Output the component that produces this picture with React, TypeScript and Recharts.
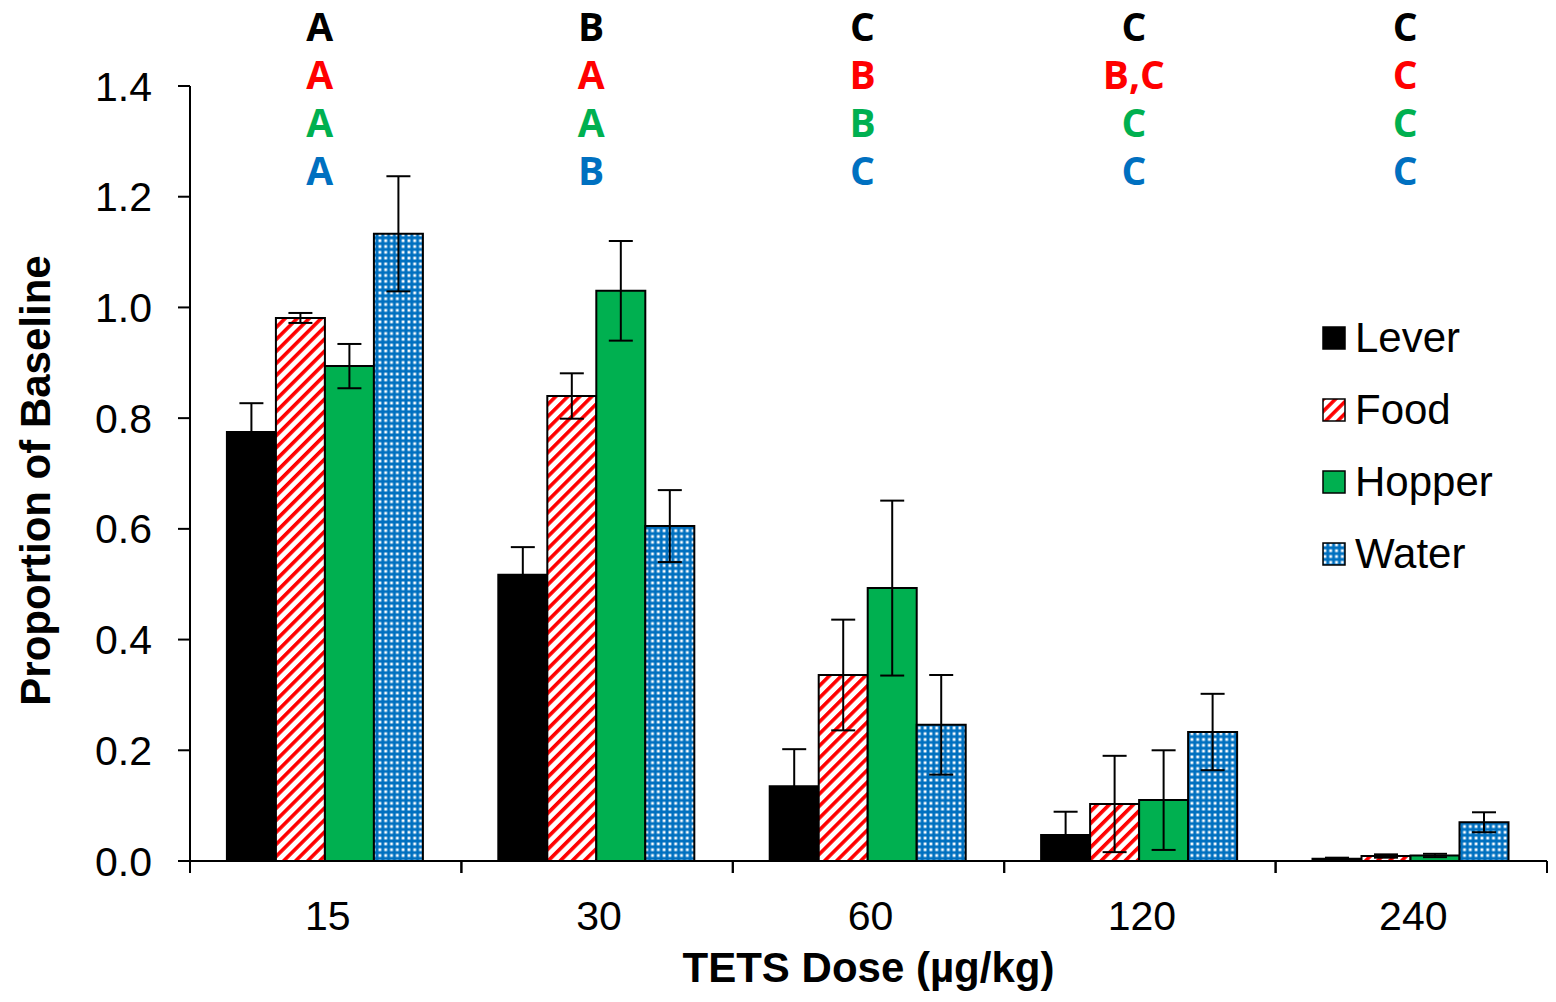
import { BarChart, Bar, XAxis, YAxis, ErrorBar, Legend } from "recharts";

const doses = ["15", "30", "60", "120", "240"];

const lever = [0.775, 0.517, 0.135, 0.047, 0.004];
const leverErr = [0.052, 0.05, 0.067, 0.042, 0.002];
const food = [0.981, 0.84, 0.336, 0.103, 0.009];
const foodErr = [0.009, 0.041, 0.1, 0.087, 0.003];
const hopper = [0.894, 1.03, 0.493, 0.11, 0.01];
const hopperErr = [0.04, 0.09, 0.158, 0.09, 0.003];
const water = [1.133, 0.605, 0.246, 0.233, 0.07];
const waterErr = [0.104, 0.065, 0.09, 0.069, 0.018];

// significance letters above each dose group, one row per measure
const leverLetters = ["A", "B", "C", "C", "C"];
const foodLetters = ["A", "A", "B", "B,C", "C"];
const hopperLetters = ["A", "A", "B", "C", "C"];
const waterLetters = ["A", "B", "C", "C", "C"];

const yTicks = [0, 0.2, 0.4, 0.6, 0.8, 1.0, 1.2, 1.4];

const data = doses.map((dose, i) => ({
  dose,
  lever: lever[i],
  leverErr: leverErr[i],
  food: food[i],
  foodErr: foodErr[i],
  hopper: hopper[i],
  hopperErr: hopperErr[i],
  water: water[i],
  waterErr: waterErr[i],
}));

const series = [
  { key: "lever", name: "Lever", fill: "#000000" },
  { key: "food", name: "Food", fill: "url(#foodStripes)" },
  { key: "hopper", name: "Hopper", fill: "#00B050" },
  { key: "water", name: "Water", fill: "url(#waterDots)" },
];

const letterRows = [
  { letters: leverLetters, color: "#000000" },
  { letters: foodLetters, color: "#FF0000" },
  { letters: hopperLetters, color: "#00B050" },
  { letters: waterLetters, color: "#0070C0" },
];

const W = 1556;
const H = 1002;
const PLOT_LEFT = 190;
const PLOT_RIGHT = 9;
const PLOT_TOP = 86;
const PLOT_BOTTOM = 861;
const band = (W - PLOT_LEFT - PLOT_RIGHT) / doses.length;

const arial = "'Liberation Sans', Arial, sans-serif";
const letterFont = "'Open Sans', 'Noto Sans', sans-serif";

function DoseTick(props: any) {
  const { x, payload, index } = props;
  const i = payload?.index ?? index;
  return (
    <g>
      <line x1={x - band / 2} x2={x - band / 2} y1={PLOT_BOTTOM} y2={PLOT_BOTTOM + 12} stroke="#000" strokeWidth={2} />
      <line x1={x + band / 2} x2={x + band / 2} y1={PLOT_BOTTOM} y2={PLOT_BOTTOM + 12} stroke="#000" strokeWidth={2} />
      <text x={x + 2} y={PLOT_BOTTOM + 40} dy="0.71em" textAnchor="middle" fontSize={41} fontFamily={arial} fill="#000">
        {payload.value}
      </text>
      {letterRows.map((row, r) => (
        <text
          key={r}
          x={x - 6}
          y={25 + r * 48}
          dominantBaseline="central"
          textAnchor="middle"
          fontSize={39}
          fontWeight={700}
          fontFamily={letterFont}
          fill={row.color}
        >
          {row.letters[i]}
        </text>
      ))}
    </g>
  );
}

function LegendBox() {
  return (
    <div style={{ fontFamily: arial, fontSize: 42, color: "#000" }}>
      {series.map((s) => (
        <div key={s.key} style={{ display: "flex", alignItems: "center", height: 72 }}>
          <svg width={24} height={24} style={{ marginRight: 9 }}>
            <rect x={1} y={1} width={22} height={22} fill={s.fill} stroke="#000" strokeWidth={1.5} />
          </svg>
          <span>{s.name}</span>
        </div>
      ))}
    </div>
  );
}

function YTitle(props: any) {
  const { viewBox } = props;
  const cx = viewBox.x + 35;
  const cy = viewBox.y + viewBox.height / 2 + 7;
  return (
    <text
      x={cx}
      y={cy}
      transform={`rotate(-90, ${cx}, ${cy})`}
      textAnchor="middle"
      dominantBaseline="central"
      fontSize={42}
      fontWeight={700}
      fontFamily={arial}
      fill="#000"
    >
      Proportion of Baseline
    </text>
  );
}

export default function App() {
  return (
    <div style={{ position: "relative", width: W, height: H, background: "#fff" }}>
      <style>{`body{margin:0}`}</style>
      <svg width={0} height={0} style={{ position: "absolute" }}>
        <defs>
          <pattern id="foodStripes" patternUnits="userSpaceOnUse" width={8.5} height={8.5} patternTransform="rotate(45)">
            <rect width={8.5} height={8.5} fill="#fff" />
            <rect width={3.6} height={8.5} fill="#FF0000" />
          </pattern>
          <pattern id="waterDots" patternUnits="userSpaceOnUse" width={5.8} height={5.8}>
            <rect width={5.8} height={5.8} fill="#0070C0" />
            <rect x={1.5} y={1.5} width={2.8} height={2.8} fill="#fff" />
          </pattern>
        </defs>
      </svg>
      <BarChart
        width={W}
        height={H}
        data={data}
        margin={{ top: PLOT_TOP, right: PLOT_RIGHT, bottom: 0, left: 0 }}
        barCategoryGap="13.6%"
        barGap={0}
      >
        <XAxis
          dataKey="dose"
          height={H - PLOT_BOTTOM}
          interval={0}
          axisLine={{ stroke: "#000", strokeWidth: 2 }}
          tickLine={false}
          tick={<DoseTick />}
          label={{
            value: "TETS Dose (µg/kg)",
            position: "insideBottom",
            offset: 20,
            fill: "#000",
            fontSize: 42,
            fontWeight: 700,
            fontFamily: arial,
          }}
        />
        <YAxis
          width={PLOT_LEFT}
          domain={[0, 1.4]}
          ticks={yTicks}
          interval={0}
          tickFormatter={(v: number) => v.toFixed(1)}
          axisLine={{ stroke: "#000", strokeWidth: 2 }}
          tickLine={{ stroke: "#000", strokeWidth: 2 }}
          tickSize={12}
          tickMargin={26}
          tick={{ fill: "#000", fontSize: 41, fontFamily: arial }}
          label={<YTitle />}
        />
        <Legend
          layout="vertical"
          align="center"
          verticalAlign="middle"
          content={<LegendBox />}
          wrapperStyle={{ left: 1322, top: 302, width: 220 }}
        />
        {series.map((s) => (
          <Bar
            key={s.key}
            dataKey={s.key}
            name={s.name}
            fill={s.fill}
            stroke="#000"
            strokeWidth={2}
            isAnimationActive={false}
          >
            <ErrorBar dataKey={s.key + "Err"} width={12} stroke="#000" strokeWidth={2} direction="y" />
          </Bar>
        ))}
      </BarChart>
    </div>
  );
}
